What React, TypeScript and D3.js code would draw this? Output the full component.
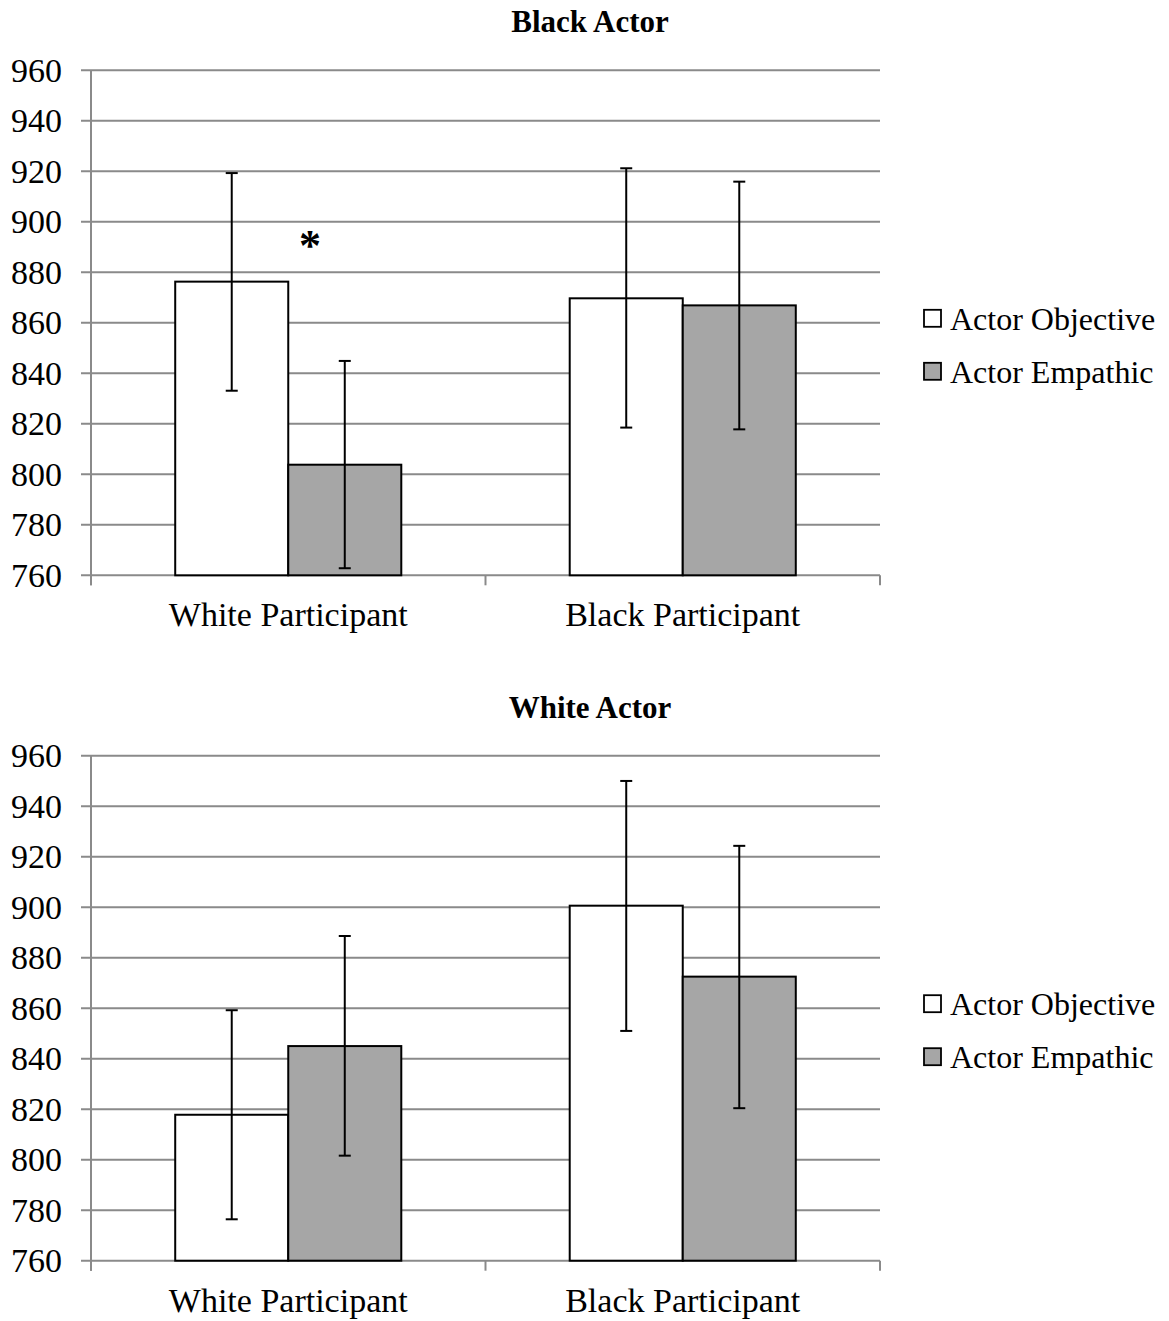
import React, { useRef, useEffect } from 'react';
import * as d3 from 'd3';

// Chart data
const categories = ['White Participant', 'Black Participant'];
const seriesNames = ['Actor Objective', 'Actor Empathic'];
const yTicks = [760, 780, 800, 820, 840, 860, 880, 900, 920, 940, 960];

const blackActorObjective = [876.3, 869.7];
const blackActorEmpathic = [803.8, 866.9];
const blackActorObjectiveLow = [833.1, 818.5];
const blackActorObjectiveHigh = [919.3, 921.2];
const blackActorEmpathicLow = [762.8, 817.8];
const blackActorEmpathicHigh = [844.9, 915.9];

const whiteActorObjective = [817.8, 900.6];
const whiteActorEmpathic = [845.0, 872.5];
const whiteActorObjectiveLow = [776.4, 851.0];
const whiteActorObjectiveHigh = [859.2, 950.0];
const whiteActorEmpathicLow = [801.6, 820.4];
const whiteActorEmpathicHigh = [888.6, 924.3];

const seriesColors = ['#ffffff', '#a6a6a6'];

const panels = [
    {
        title: 'Black Actor',
        top: 70.3,
        values: [blackActorObjective, blackActorEmpathic],
        lows: [blackActorObjectiveLow, blackActorEmpathicLow],
        highs: [blackActorObjectiveHigh, blackActorEmpathicHigh],
        star: true,
    },
    {
        title: 'White Actor',
        top: 755.7,
        values: [whiteActorObjective, whiteActorEmpathic],
        lows: [whiteActorObjectiveLow, whiteActorEmpathicLow],
        highs: [whiteActorObjectiveHigh, whiteActorEmpathicHigh],
        star: false,
    },
];

const FONT = '"Liberation Serif", "Times New Roman", serif';

const App = () => {
    const svgRef = useRef(null);

    useEffect(() => {
        const svg = d3.select(svgRef.current);
        svg.selectAll('*').remove();

        var margin = { left: 91, right: 880 },
            height = 505;
        const gridColor = '#8a8a8a';

        const x0 = d3.scaleBand()
            .domain(categories)
            .range([margin.left, margin.right])
            .paddingInner(0)
            .paddingOuter(0);
        const x1 = d3.scaleBand()
            .domain(seriesNames)
            .range([0, x0.bandwidth()])
            .paddingInner(0)
            .paddingOuter(0.745);

        panels.forEach(panel => {
            const g = svg.append('g').attr('transform', 'translate(0,' + panel.top + ')');
            const y = d3.scaleLinear().domain([760, 960]).range([height, 0]);

            // title
            svg.append('text')
                .attr('x', 590)
                .attr('y', panel.top - 38)
                .attr('text-anchor', 'middle')
                .style('font-family', FONT)
                .style('font-weight', 'bold')
                .style('font-size', '31px')
                .text(panel.title);

            // gridlines
            g.selectAll('.grid')
                .data(yTicks)
                .enter()
                .append('line')
                .attr('x1', margin.left - 10)
                .attr('x2', margin.right)
                .attr('y1', d => y(d))
                .attr('y2', d => y(d))
                .attr('stroke', gridColor)
                .attr('stroke-width', 2);

            // y axis line
            g.append('line')
                .attr('x1', margin.left).attr('x2', margin.left)
                .attr('y1', 0).attr('y2', height + 10)
                .attr('stroke', gridColor).attr('stroke-width', 2);

            // category separator ticks
            const edges = [margin.left, ...categories.map(c => x0(c) + x0.bandwidth())];
            g.selectAll('.xtick')
                .data(edges)
                .enter()
                .append('line')
                .attr('x1', d => d).attr('x2', d => d)
                .attr('y1', height).attr('y2', height + 10)
                .attr('stroke', gridColor).attr('stroke-width', 2);

            // y tick labels
            g.selectAll('.ylab')
                .data(yTicks)
                .enter()
                .append('text')
                .attr('x', 62)
                .attr('y', d => y(d) + 11.5)
                .attr('text-anchor', 'end')
                .style('font-family', FONT)
                .style('font-size', '34px')
                .text(d => d);

            // category labels
            g.selectAll('.xlab')
                .data(categories)
                .enter()
                .append('text')
                .attr('x', d => x0(d) + x0.bandwidth() / 2)
                .attr('y', height + 51)
                .attr('text-anchor', 'middle')
                .style('font-family', FONT)
                .style('font-size', '34px')
                .text(d => d);

            // bars
            seriesNames.forEach((s, si) => {
                g.selectAll('.bar' + si)
                    .data(categories)
                    .enter()
                    .append('rect')
                    .attr('x', c => x0(c) + x1(s))
                    .attr('y', (c, i) => y(panel.values[si][i]))
                    .attr('width', x1.bandwidth())
                    .attr('height', (c, i) => height - y(panel.values[si][i]))
                    .attr('fill', seriesColors[si])
                    .attr('stroke', '#000')
                    .attr('stroke-width', 2);
            });

            // error bars
            seriesNames.forEach((s, si) => {
                categories.forEach((c, i) => {
                    const cx = x0(c) + x1(s) + x1.bandwidth() / 2;
                    const lo = y(panel.lows[si][i]);
                    const hi = y(panel.highs[si][i]);
                    g.append('line')
                        .attr('x1', cx).attr('x2', cx)
                        .attr('y1', lo).attr('y2', hi)
                        .attr('stroke', '#000').attr('stroke-width', 2);
                    [lo, hi].forEach(v => {
                        g.append('line')
                            .attr('x1', cx - 6).attr('x2', cx + 6)
                            .attr('y1', v).attr('y2', v)
                            .attr('stroke', '#000').attr('stroke-width', 2);
                    });
                });
            });

            if (panel.star) {
                g.append('text')
                    .attr('x', 310)
                    .attr('y', y(880) - 12)
                    .attr('text-anchor', 'middle')
                    .style('font-family', FONT)
                    .style('font-weight', 'bold')
                    .style('font-size', '44px')
                    .text('*');
            }

            // legend
            const legend = g.append('g').attr('transform', 'translate(924,' + (height / 2 - 4) + ')');
            seriesNames.forEach((s, si) => {
                const row = legend.append('g').attr('transform', 'translate(0,' + (si * 53) + ')');
                row.append('rect')
                    .attr('x', 0).attr('y', -9)
                    .attr('width', 17).attr('height', 17)
                    .attr('fill', seriesColors[si])
                    .attr('stroke', '#000')
                    .attr('stroke-width', 1.8);
                row.append('text')
                    .attr('x', 26)
                    .attr('y', 11)
                    .style('font-family', FONT)
                    .style('font-size', '32px')
                    .text(s);
            });
        });
    }, []);

    return (
        <svg ref={svgRef} width={1169} height={1321}
            style={{ position: 'absolute', left: 0, top: 0, background: '#fff' }} />
    );
};

export default App;
